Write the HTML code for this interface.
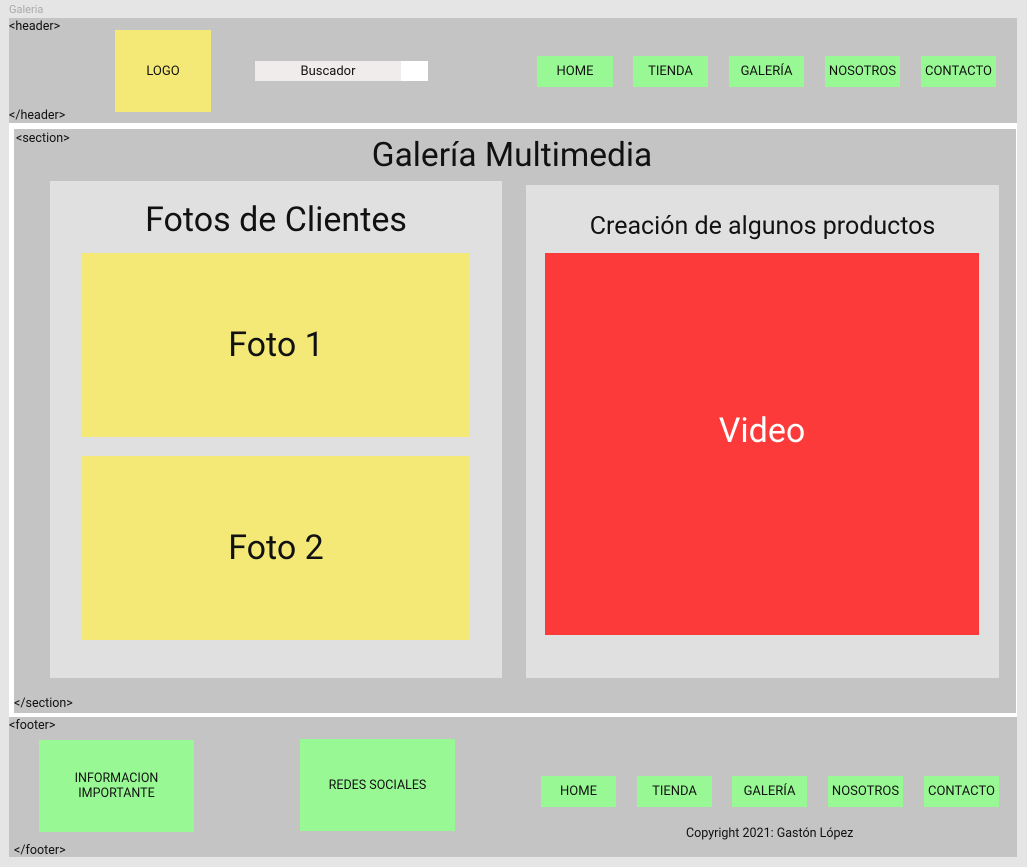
<!DOCTYPE html>
<html><head><meta charset="utf-8"><style>
body{margin:0;width:1027px;height:867px;background:#e5e5e5;position:relative;overflow:hidden;font-family:"Roboto","Liberation Sans",sans-serif;color:#111}
div{position:absolute;box-sizing:border-box}
.c{display:flex;align-items:center;justify-content:center;text-align:center}
.g{background:#98f994;font-size:13px}
.t{font-size:12.5px}
</style></head><body>
<div style="left:9px;top:3px;font-size:11px;color:#aaa">Galeria</div>
<div style="left:9px;top:18px;width:1008px;height:105px;background:#c4c4c4"></div>
<div class="t" style="left:9px;top:19px">&lt;header&gt;</div>
<div class="t" style="left:9px;top:108px">&lt;/header&gt;</div>
<div class="c" style="left:115px;top:30px;width:96px;height:82px;background:#f4e977;font-size:13px">LOGO</div>
<div class="c" style="left:255px;top:61px;width:146px;height:20px;background:#f0ecec;font-size:13px">Buscador</div>
<div style="left:401px;top:61px;width:27px;height:20px;background:#fff"></div>
<div class="c g" style="left:537px;top:56px;width:76px;height:31px">HOME</div>
<div class="c g" style="left:633px;top:56px;width:75px;height:31px">TIENDA</div>
<div class="c g" style="left:729px;top:56px;width:75px;height:31px">GALERÍA</div>
<div class="c g" style="left:825px;top:56px;width:75px;height:31px">NOSOTROS</div>
<div class="c g" style="left:921px;top:56px;width:75px;height:31px">CONTACTO</div>

<div style="left:9px;top:123px;width:1008px;height:594px;background:#fff"></div>
<div style="left:14px;top:129px;width:1002px;height:584px;background:#c4c4c4"></div>
<div class="t" style="left:16px;top:131px">&lt;section&gt;</div>
<div class="t" style="left:14px;top:696px">&lt;/section&gt;</div>
<div class="c" style="left:14px;top:133px;width:996px;height:44px;font-size:33.5px">Galería Multimedia</div>
<div style="left:50px;top:181px;width:452px;height:497px;background:#e0e0e0"></div>
<div class="c" style="left:50px;top:197px;width:452px;height:46px;font-size:34px">Fotos de Clientes</div>
<div class="c" style="left:82px;top:253px;width:388px;height:184px;background:#f4e977;font-size:34px">Foto 1</div>
<div class="c" style="left:82px;top:456px;width:388px;height:184px;background:#f4e977;font-size:34px">Foto 2</div>
<div style="left:526px;top:185px;width:473px;height:493px;background:#e0e0e0"></div>
<div class="c" style="left:526px;top:210px;width:473px;height:32px;font-size:25px">Creación de algunos productos</div>
<div style="left:545px;top:253px;width:434px;height:382px;background:#fd3a3a"></div>
<div class="c" style="left:545px;top:410px;width:434px;height:42px;font-size:34px;color:#fff">Video</div>

<div style="left:9px;top:717px;width:1008px;height:140px;background:#c4c4c4"></div>
<div class="t" style="left:9px;top:718px">&lt;footer&gt;</div>
<div class="t" style="left:14px;top:843px">&lt;/footer&gt;</div>
<div class="c g" style="left:39px;top:740px;width:155px;height:92px;font-size:12.5px">INFORMACION<br>IMPORTANTE</div>
<div class="c g" style="left:300px;top:739px;width:155px;height:92px;font-size:12.5px">REDES SOCIALES</div>
<div class="c g" style="left:541px;top:776px;width:75px;height:31px">HOME</div>
<div class="c g" style="left:637px;top:776px;width:75px;height:31px">TIENDA</div>
<div class="c g" style="left:732px;top:776px;width:75px;height:31px">GALERÍA</div>
<div class="c g" style="left:828px;top:776px;width:75px;height:31px">NOSOTROS</div>
<div class="c g" style="left:924px;top:776px;width:75px;height:31px">CONTACTO</div>
<div style="left:686px;top:826px;font-size:12.5px">Copyright 2021: Gastón López</div>
</body></html>
